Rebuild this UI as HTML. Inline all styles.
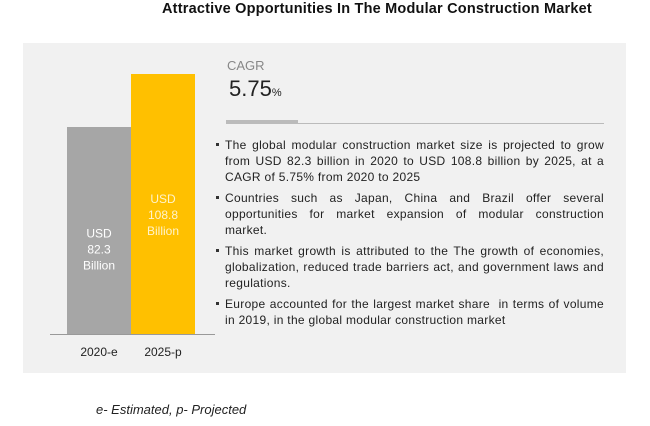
<!DOCTYPE html>
<html><head><meta charset="utf-8"><style>
body{margin:0;width:650px;height:426px;background:#fff;font-family:"Liberation Sans",sans-serif;position:relative;overflow:hidden}
.abs{position:absolute}
#panel{left:23px;top:43px;width:603px;height:330px;background:#f1f1f1}
ul{margin:0;padding:0;list-style:none}
li{position:relative;padding-left:9px;margin-bottom:5px;line-height:16px;letter-spacing:0.3px}
li span{display:block;white-space:nowrap;text-align:justify;text-align-last:justify}
li span.last{text-align-last:left}
li:before{content:"";position:absolute;left:0;top:6px;width:3px;height:3px;background:#333}
</style></head><body>
<div class="abs" style="left:162px;top:1px;font-weight:bold;font-size:14.5px;color:#111;letter-spacing:0.2px">Attractive Opportunities In The Modular Construction Market</div>
<div id="panel" class="abs"></div>
<svg class="abs" style="left:0;top:0" width="650" height="426"></svg>
<div class="abs" style="left:227px;top:58px;font-size:13px;color:#888">CAGR</div>
<div class="abs" style="left:229px;top:76px;font-size:22px;color:#222">5.75<span style="font-size:11px">%</span></div>
<div class="abs" style="left:226px;top:120px;width:72px;height:4px;background:#bbb"></div>
<div class="abs" style="left:298px;top:123px;width:306px;height:1px;background:#bbb"></div>
<ul class="abs" style="left:216px;top:137px;width:388px;font-size:12px;color:#222">
<li><span>The global modular construction market size is projected to grow</span><span>from USD 82.3 billion in 2020 to USD 108.8 billion by 2025, at a</span><span class="last">CAGR of 5.75% from 2020 to 2025</span></li>
<li><span>Countries such as Japan, China and Brazil offer several</span><span>opportunities for market expansion of modular construction</span><span class="last">market.</span></li>
<li><span>This market growth is attributed to the The growth of economies,</span><span>globalization, reduced trade barriers act, and government laws and</span><span class="last">regulations.</span></li>
<li><span>Europe accounted for the largest market share &nbsp;in terms of volume</span><span class="last">in 2019, in the global modular construction market</span></li>
</ul>
<div class="abs" style="left:96px;top:402px;font-size:13px;font-style:italic;color:#222">e- Estimated, p- Projected</div>
<script>
const categories=["2020-e","2025-p"];
const values=[82.3,108.8];
const valueLabels=["82.3","108.8"];
const colors=["#a6a6a6","#ffc000"];
const textColors=["#ffffff","#fff3cc"];
const svg=document.querySelector('svg');
const NS="http://www.w3.org/2000/svg";
const base=334;
function y(v){return base-(v*2.0+42.4);}
function x(i){return 67+i*64;}
const bw=64;
categories.forEach((c,i)=>{
 const r=document.createElementNS(NS,'rect');
 r.setAttribute('x',x(i));r.setAttribute('y',y(values[i]));r.setAttribute('width',bw);r.setAttribute('height',base-y(values[i]));r.setAttribute('fill',colors[i]);
 
 
 svg.appendChild(r);
 const lines=["USD",valueLabels[i],"Billion"];
 const ty=(y(values[i])+base)/2+(i==0?7:-1);
 lines.forEach((s,j)=>{
  const t=document.createElementNS(NS,'text');
  t.setAttribute('x',x(i)+bw/2);t.setAttribute('y',ty+j*16);t.setAttribute('text-anchor','middle');
  t.setAttribute('font-size','12');t.setAttribute('fill',textColors[i]);t.setAttribute('font-family','Liberation Sans, sans-serif');
  t.textContent=s;
  
  
  svg.appendChild(t);
 });
 const l=document.createElementNS(NS,'text');
 l.setAttribute('x',x(i)+bw/2);l.setAttribute('y',356);l.setAttribute('text-anchor','middle');
 l.setAttribute('font-size','12');l.setAttribute('fill','#222');l.setAttribute('font-family','Liberation Sans, sans-serif');
 l.textContent=c;
 
 
 svg.appendChild(l);
});
const ax=document.createElementNS(NS,'line');
ax.setAttribute('x1',50);ax.setAttribute('x2',215);ax.setAttribute('y1',base+0.5);ax.setAttribute('y2',base+0.5);ax.setAttribute('stroke','#999');


svg.appendChild(ax);
</script>
</body></html>
